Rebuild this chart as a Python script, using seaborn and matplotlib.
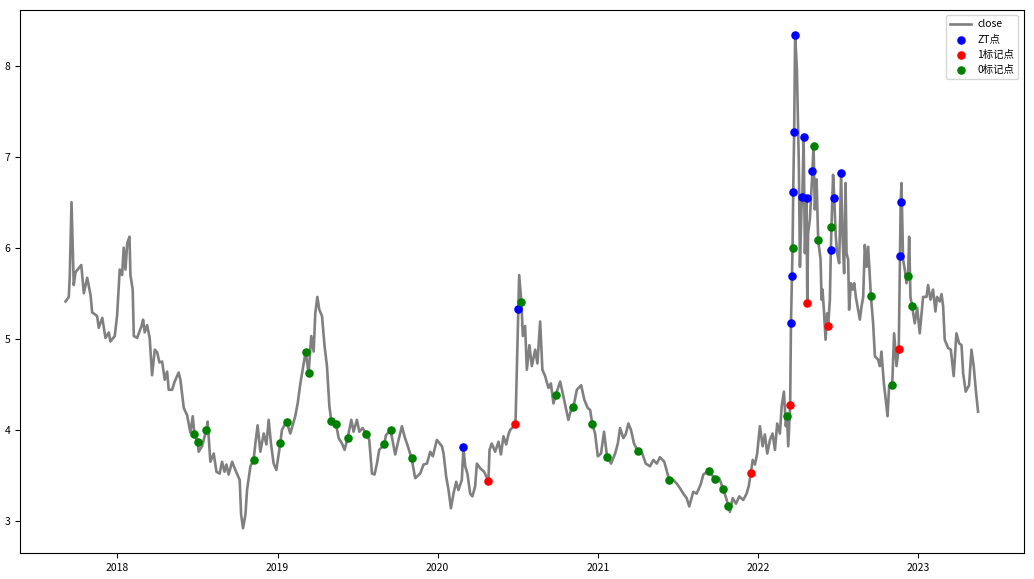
import pandas as pd
import numpy as np
import matplotlib
matplotlib.use("Agg")
import matplotlib.pyplot as plt
import seaborn as sns

# ================= DATA (time in decimal years, close price) =================
line_t = [2017.676, 2017.696, 2017.702, 2017.713, 2017.727, 2017.738, 2017.774, 2017.790,
          2017.811, 2017.832, 2017.842, 2017.873, 2017.883, 2017.905, 2017.925, 2017.946,
          2017.956, 2017.983, 2017.998, 2018.014, 2018.029, 2018.039, 2018.050, 2018.061,
          2018.075, 2018.081, 2018.095, 2018.102, 2018.123, 2018.150, 2018.160, 2018.170,
          2018.185, 2018.201, 2018.216, 2018.233, 2018.248, 2018.262, 2018.279, 2018.295,
          2018.310, 2018.320, 2018.341, 2018.357, 2018.382, 2018.393, 2018.414, 2018.435,
          2018.455, 2018.470, 2018.507, 2018.528, 2018.563, 2018.580, 2018.601, 2018.618,
          2018.638, 2018.653, 2018.668, 2018.680, 2018.694, 2018.716, 2018.736, 2018.763,
          2018.772, 2018.784, 2018.799, 2018.809, 2018.830, 2018.861, 2018.875, 2018.892,
          2018.913, 2018.930, 2018.944, 2018.959, 2018.975, 2018.992, 2019.027, 2019.079,
          2019.110, 2019.125, 2019.142, 2019.210, 2019.225, 2019.235, 2019.248, 2019.260,
          2019.277, 2019.293, 2019.308, 2019.323, 2019.381, 2019.402, 2019.418, 2019.460,
          2019.474, 2019.495, 2019.510, 2019.530, 2019.572, 2019.589, 2019.605, 2019.620,
          2019.634, 2019.676, 2019.717, 2019.734, 2019.755, 2019.776, 2019.792, 2019.813,
          2019.859, 2019.890, 2019.911, 2019.932, 2019.953, 2019.969, 2019.994, 2020.026,
          2020.036, 2020.052, 2020.067, 2020.082, 2020.098, 2020.115, 2020.129, 2020.150,
          2020.171, 2020.185, 2020.202, 2020.216, 2020.233, 2020.244, 2020.264, 2020.289,
          2020.323, 2020.337, 2020.358, 2020.379, 2020.394, 2020.410, 2020.427, 2020.441,
          2020.452, 2020.508, 2020.531, 2020.545, 2020.556, 2020.572, 2020.587, 2020.608,
          2020.622, 2020.639, 2020.653, 2020.670, 2020.691, 2020.706, 2020.722, 2020.764,
          2020.784, 2020.815, 2020.832, 2020.868, 2020.895, 2020.915, 2020.936, 2020.951,
          2020.982, 2020.999, 2021.019, 2021.038, 2021.082, 2021.107, 2021.124, 2021.138,
          2021.158, 2021.173, 2021.190, 2021.206, 2021.225, 2021.277, 2021.298, 2021.325,
          2021.346, 2021.367, 2021.387, 2021.414, 2021.470, 2021.492, 2021.512, 2021.533,
          2021.554, 2021.570, 2021.595, 2021.616, 2021.641, 2021.658, 2021.757, 2021.804,
          2021.824, 2021.841, 2021.862, 2021.882, 2021.907, 2021.928, 2021.941, 2021.966,
          2021.980, 2021.994, 2022.011, 2022.028, 2022.042, 2022.057, 2022.074, 2022.090,
          2022.105, 2022.119, 2022.136, 2022.147, 2022.161, 2022.173, 2022.188, 2022.242,
          2022.254, 2022.261, 2022.271, 2022.292, 2022.312, 2022.323, 2022.354, 2022.365,
          2022.390, 2022.396, 2022.402, 2022.412, 2022.421, 2022.431, 2022.448, 2022.468,
          2022.485, 2022.493, 2022.506, 2022.527, 2022.537, 2022.546, 2022.552, 2022.562,
          2022.568, 2022.579, 2022.590, 2022.600, 2022.610, 2022.624, 2022.635, 2022.646,
          2022.656, 2022.666, 2022.677, 2022.687, 2022.718, 2022.729, 2022.749, 2022.760,
          2022.770, 2022.785, 2022.797, 2022.808, 2022.818, 2022.849, 2022.864, 2022.895,
          2022.905, 2022.916, 2022.926, 2022.943, 2022.951, 2022.978, 2022.993, 2023.009,
          2023.030, 2023.051, 2023.061, 2023.076, 2023.092, 2023.107, 2023.117, 2023.134,
          2023.145, 2023.155, 2023.165, 2023.186, 2023.203, 2023.221, 2023.238, 2023.255,
          2023.270, 2023.280, 2023.296, 2023.317, 2023.332, 2023.346, 2023.359, 2023.373]
line_v = [5.41, 5.46, 5.68, 6.50, 5.59, 5.73, 5.81, 5.50,
          5.67, 5.48, 5.29, 5.25, 5.12, 5.23, 5.01, 5.07,
          4.97, 5.03, 5.26, 5.76, 5.70, 6.00, 5.76, 6.05,
          6.12, 5.70, 5.54, 5.03, 5.01, 5.14, 5.21, 5.07,
          5.15, 5.01, 4.60, 4.88, 4.85, 4.74, 4.75, 4.55,
          4.64, 4.44, 4.44, 4.53, 4.63, 4.55, 4.24, 4.16,
          3.97, 4.15, 3.76, 3.82, 4.09, 3.65, 3.74, 3.54,
          3.52, 3.65, 3.54, 3.62, 3.51, 3.65, 3.56, 3.45,
          3.07, 2.92, 3.07, 3.34, 3.60, 3.85, 4.05, 3.76,
          3.96, 3.84, 4.11, 3.84, 3.63, 3.56, 4.00, 3.96,
          4.15, 4.29, 4.51, 5.03, 4.86, 5.28, 5.46, 5.32,
          5.25, 4.92, 4.70, 4.26, 3.91, 3.85, 3.78, 4.11,
          3.98, 4.11, 3.98, 4.02, 3.89, 3.52, 3.51, 3.63,
          3.78, 3.94, 3.89, 3.73, 3.89, 4.04, 3.93, 3.82,
          3.47, 3.52, 3.62, 3.63, 3.76, 3.71, 3.89, 3.82,
          3.74, 3.49, 3.34, 3.14, 3.30, 3.43, 3.34, 3.45,
          3.60, 3.52, 3.30, 3.27, 3.38, 3.63, 3.58, 3.54,
          3.78, 3.85, 3.76, 3.87, 3.73, 3.93, 3.84, 3.95,
          4.00, 5.70, 5.03, 5.14, 4.66, 4.93, 4.70, 4.88,
          4.73, 5.19, 4.66, 4.59, 4.46, 4.51, 4.29, 4.53,
          4.37, 4.11, 4.22, 4.44, 4.49, 4.33, 4.24, 4.22,
          3.96, 3.71, 3.74, 3.98, 3.63, 3.74, 3.85, 4.02,
          3.91, 3.95, 4.07, 4.00, 3.85, 3.74, 3.63, 3.60,
          3.67, 3.63, 3.70, 3.65, 3.45, 3.41, 3.36, 3.30,
          3.25, 3.16, 3.32, 3.30, 3.40, 3.51, 3.47, 3.23,
          3.10, 3.25, 3.19, 3.27, 3.23, 3.30, 3.38, 3.67,
          3.62, 3.74, 4.04, 3.82, 3.95, 3.74, 3.89, 3.96,
          3.78, 4.07, 3.96, 4.26, 4.42, 4.04, 3.82, 7.96,
          6.93, 5.79, 6.45, 5.94, 6.16, 6.31, 6.42, 6.75,
          5.87, 5.43, 5.54, 5.28, 4.99, 5.28, 5.43, 6.80,
          6.12, 5.94, 5.83, 6.12, 5.72, 6.71, 5.94, 5.87,
          5.32, 5.61, 5.54, 5.61, 5.46, 5.32, 5.21, 5.36,
          5.46, 6.03, 5.79, 6.01, 5.17, 4.81, 4.77, 4.70,
          4.86, 4.51, 4.33, 4.15, 4.48, 5.06, 4.70, 6.71,
          5.87, 5.76, 5.61, 6.12, 5.46, 5.17, 5.34, 5.06,
          5.46, 5.46, 5.59, 5.43, 5.54, 5.30, 5.46, 5.41,
          5.49, 5.36, 4.99, 4.90, 4.88, 4.59, 5.06, 4.95,
          4.93, 4.62, 4.42, 4.49, 4.88, 4.70, 4.44, 4.20]

# ZT points (blue)
zt_t = [2020.160, 2020.503, 2022.205, 2022.211, 2022.219, 2022.225, 2022.231, 2022.276,
        2022.284, 2022.302, 2022.339, 2022.454, 2022.475, 2022.518, 2022.886, 2022.890]
zt_v = [3.81, 5.33, 5.17, 5.69, 6.61, 7.27, 8.34, 6.56,
        7.21, 6.54, 6.84, 5.97, 6.55, 6.82, 5.91, 6.50]

# label 1 points (red)
one_t = [2020.316, 2020.485, 2021.955, 2022.200, 2022.307, 2022.437, 2022.878]
one_v = [3.44, 4.06, 3.53, 4.27, 5.39, 5.14, 4.89]

# label 0 points (green)
zero_t = [2018.480, 2018.501, 2018.555, 2018.850, 2019.017, 2019.056, 2019.175, 2019.193,
          2019.335, 2019.364, 2019.437, 2019.553, 2019.666, 2019.705, 2019.836, 2020.522,
          2020.736, 2020.847, 2020.965, 2021.057, 2021.248, 2021.445, 2021.691, 2021.732,
          2021.782, 2021.814, 2022.180, 2022.215, 2022.346, 2022.375, 2022.458, 2022.704,
          2022.837, 2022.936, 2022.961]
zero_v = [3.96, 3.87, 4.00, 3.67, 3.86, 4.09, 4.86, 4.62,
          4.10, 4.07, 3.91, 3.96, 3.84, 4.00, 3.69, 5.40,
          4.38, 4.25, 4.06, 3.70, 3.77, 3.45, 3.55, 3.46,
          3.35, 3.16, 4.15, 6.00, 7.12, 6.08, 6.23, 5.47,
          4.49, 5.69, 5.36]


def to_date(years):
    years = np.asarray(years, dtype=float)
    return pd.Timestamp("2018-01-01") + pd.to_timedelta((years - 2018) * 365.25, unit="D")


# ================= BUILD TABLES =================
close_df = pd.DataFrame({
    "date": to_date(line_t + zt_t + one_t + zero_t),
    "close": line_v + zt_v + one_v + zero_v,
}).sort_values("date")
zt_df = pd.DataFrame({"date": to_date(zt_t), "close": zt_v})
one_df = pd.DataFrame({"date": to_date(one_t), "close": one_v})
zero_df = pd.DataFrame({"date": to_date(zero_t), "close": zero_v})

# ================= PLOT =================
plt.rcParams["font.family"] = ["Noto Sans CJK SC", "DejaVu Sans"]
plt.rcParams["font.size"] = 7.5

fig, ax = plt.subplots(figsize=(10.34, 5.79), dpi=100)
fig.subplots_adjust(left=0.0193, right=0.990, bottom=0.045, top=0.983)

sns.lineplot(data=close_df, x="date", y="close", color="grey", linewidth=1.9,
             label="close", ax=ax, estimator=None)
sns.scatterplot(data=zt_df, x="date", y="close", color="#0000ff", s=38,
                linewidth=0, label="ZT点", ax=ax, zorder=3)
sns.scatterplot(data=one_df, x="date", y="close", color="#ff0000", s=38,
                linewidth=0, label="1标记点", ax=ax, zorder=3)
sns.scatterplot(data=zero_df, x="date", y="close", color="#008000", s=38,
                linewidth=0, label="0标记点", ax=ax, zorder=3)

ax.set_xlabel("")
ax.set_ylabel("")
ax.legend(loc="upper right", fontsize=7.5, handletextpad=0.6)

fig.savefig("out.png", dpi=100)
